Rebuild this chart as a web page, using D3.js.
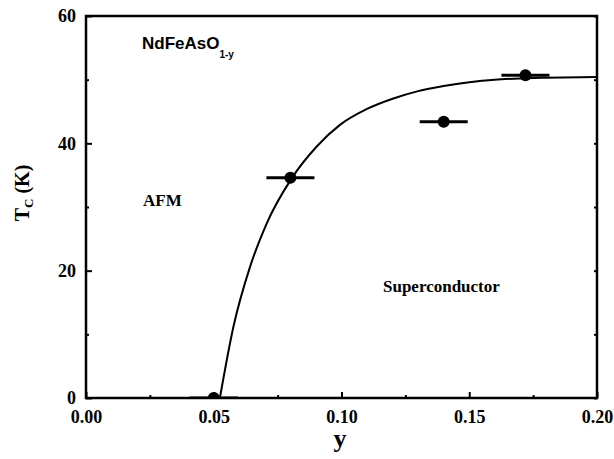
<!DOCTYPE html>
<html>
<head>
<meta charset="utf-8">
<script src="https://cdn.jsdelivr.net/npm/d3@7"></script>
<style>
  body { margin: 0; background: #fff; }
  .tick text { font-family: "Liberation Serif", serif; font-weight: bold; font-size: 18px; fill: #000; }
  .tick line { stroke: #000; stroke-width: 2; }
</style>
</head>
<body>
<script>
// measured points with horizontal error bars
const ptY = [0.050, 0.080, 0.140, 0.172];
const ptTc = [0.0, 34.6, 43.4, 50.7];
const ptErr = [0.0095, 0.0094, 0.0094, 0.0094];

// fitted curve
const curveY = [0.0524, 0.0577, 0.0642, 0.0707, 0.0805, 0.0903, 0.0994, 0.1100, 0.1200, 0.1300, 0.1400, 0.1500, 0.1600, 0.1700, 0.1800, 0.2000];
const curveTc = [0.0, 11.2, 20.6, 27.4, 34.5, 39.5, 42.9, 45.4, 47.0, 48.2, 49.0, 49.6, 50.0, 50.2, 50.3, 50.4];

const xTicks = [0.00, 0.05, 0.10, 0.15, 0.20];
const xMinor = [0.025, 0.075, 0.125, 0.175];
const yTicks = [0, 20, 40, 60];
const yMinor = [10, 30, 50];

const width = 614, height = 459;
const mLeft = 86, mRight = 597, mTop = 16, mBottom = 398;

const svg = d3.select("body").append("svg").attr("width", width).attr("height", height);

const x = d3.scaleLinear().domain([0, 0.2]).range([mLeft, mRight]);
const y = d3.scaleLinear().domain([0, 60]).range([mBottom, mTop]);

svg.append("clipPath").attr("id", "clip")
  .append("rect").attr("x", mLeft).attr("y", mTop).attr("width", mRight - mLeft).attr("height", mBottom - mTop);

// axes, ticks pointing inward
const xAxis = svg.append("g").attr("transform", "translate(0," + mBottom + ")")
  .call(d3.axisBottom(x).tickValues(xTicks).tickFormat(d3.format(".2f")).tickSize(-6).tickPadding(12));
xAxis.select(".domain").remove();
svg.append("g").attr("transform", "translate(0," + mBottom + ")")
  .call(d3.axisBottom(x).tickValues(xMinor).tickFormat("").tickSize(-3))
  .select(".domain").remove();

const yAxis = svg.append("g").attr("transform", "translate(" + mLeft + ",0)")
  .call(d3.axisLeft(y).tickValues(yTicks).tickSize(-6).tickPadding(10));
yAxis.select(".domain").remove();
svg.append("g").attr("transform", "translate(" + mLeft + ",0)")
  .call(d3.axisLeft(y).tickValues(yMinor).tickFormat("").tickSize(-3))
  .select(".domain").remove();
svg.append("g").attr("transform", "translate(" + mRight + ",0)")
  .call(d3.axisRight(y).tickValues(yTicks.concat(yMinor)).tickFormat("").tickSize(-3))
  .select(".domain").remove();

// frame
svg.append("rect")
  .attr("x", mLeft).attr("y", mTop).attr("width", mRight - mLeft).attr("height", mBottom - mTop)
  .attr("fill", "none").attr("stroke", "#000").attr("stroke-width", 2.5);

const plot = svg.append("g").attr("clip-path", "url(#clip)");

// fitted curve
const line = d3.line().x((d, i) => x(curveY[i])).y((d, i) => y(curveTc[i])).curve(d3.curveMonotoneX);
plot.append("path").datum(curveY).attr("d", line)
  .attr("fill", "none").attr("stroke", "#000").attr("stroke-width", 2);

// error bars and points
plot.selectAll(".err").data(ptY).enter().append("line")
  .attr("x1", (d, i) => x(d - ptErr[i])).attr("x2", (d, i) => x(d + ptErr[i]))
  .attr("y1", (d, i) => y(ptTc[i])).attr("y2", (d, i) => y(ptTc[i]))
  .attr("stroke", "#000").attr("stroke-width", 3);
plot.selectAll(".pt").data(ptY).enter().append("circle")
  .attr("cx", d => x(d)).attr("cy", (d, i) => y(ptTc[i])).attr("r", 6).attr("fill", "#000");

// labels
const title = svg.append("text").attr("x", 142).attr("y", 49)
  .attr("font-family", "Liberation Sans, Arial, sans-serif").attr("font-weight", "bold").attr("font-size", 17);
title.append("tspan").text("NdFeAsO");
title.append("tspan").attr("dy", 9).attr("font-size", 10).text("1-y");

svg.append("text").attr("x", 143).attr("y", 206)
  .attr("font-family", "Liberation Serif, serif").attr("font-weight", "bold").attr("font-size", 17).text("AFM");
svg.append("text").attr("x", 383).attr("y", 292)
  .attr("font-family", "Liberation Serif, serif").attr("font-weight", "bold").attr("font-size", 17).text("Superconductor");

svg.append("text").attr("x", 340).attr("y", 447).attr("text-anchor", "middle")
  .attr("font-family", "Liberation Serif, serif").attr("font-weight", "bold").attr("font-size", 26).text("y");

const yl = svg.append("text").attr("transform", "translate(29,193) rotate(-90)").attr("text-anchor", "middle")
  .attr("font-family", "Liberation Serif, serif").attr("font-weight", "bold").attr("font-size", 20);
yl.append("tspan").text("T");
yl.append("tspan").attr("dy", 4).attr("font-size", 13).text("C");
yl.append("tspan").attr("dy", -4).text(" (K)");
</script>
</body>
</html>
